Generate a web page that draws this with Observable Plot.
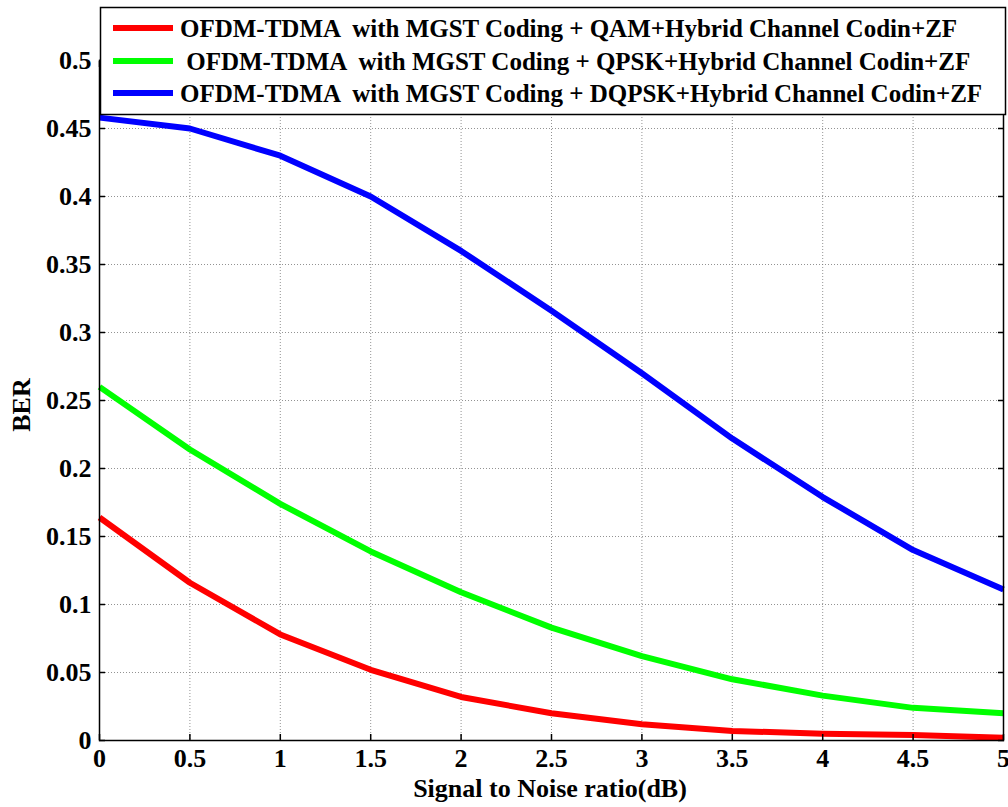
<!DOCTYPE html>
<html>
<head>
<meta charset="utf-8">
<script src="https://cdn.jsdelivr.net/npm/d3@7"></script>
<script src="https://cdn.jsdelivr.net/npm/@observablehq/plot@0.6"></script>
<style>
  html, body { margin: 0; padding: 0; background: #fff; }
  #chart svg { display: block; }
</style>
</head>
<body>
<div id="chart"></div>
<script>
const snr = [0, 0.5, 1, 1.5, 2, 2.5, 3, 3.5, 4, 4.5, 5];
const berQAM   = [0.164, 0.116, 0.078, 0.052, 0.032, 0.020, 0.012, 0.007, 0.005, 0.004, 0.002];
const berQPSK  = [0.260, 0.214, 0.174, 0.139, 0.109, 0.083, 0.062, 0.045, 0.033, 0.024, 0.020];
const berDQPSK = [0.458, 0.450, 0.430, 0.400, 0.360, 0.316, 0.270, 0.222, 0.179, 0.140, 0.111];
const seriesNames = [
  "OFDM-TDMA  with MGST Coding + QAM+Hybrid Channel Codin+ZF",
  " OFDM-TDMA  with MGST Coding + QPSK+Hybrid Channel Codin+ZF",
  "OFDM-TDMA  with MGST Coding + DQPSK+Hybrid Channel Codin+ZF"
];
const seriesColors = ["#ff0000", "#00ff00", "#0000ff"];
const xTicks = [0, 0.5, 1, 1.5, 2, 2.5, 3, 3.5, 4, 4.5, 5];
const yTicks = [0, 0.05, 0.1, 0.15, 0.2, 0.25, 0.3, 0.35, 0.4, 0.45, 0.5];
const xLabel = "Signal to Noise ratio(dB)";
const yLabel = "BER";

const allSeries = [berQAM, berQPSK, berDQPSK];
const data = [];
allSeries.forEach((vals, si) => {
  vals.forEach((v, i) => data.push({x: snr[i], y: v, s: seriesNames[si]}));
});

const W = 1008, H = 807;
const fontFam = "'Liberation Serif', 'Times New Roman', serif";
const fmt = d => String(+d.toFixed(2));

const chart = Plot.plot({
  width: W,
  height: H,
  marginLeft: 99,
  marginRight: 5,
  marginTop: 60,
  marginBottom: 67,
  style: {fontFamily: fontFam, fontWeight: "bold", fontSize: "26px", background: "#fff", color: "#000"},
  x: {domain: [0, 5]},
  y: {domain: [0, 0.5]},
  color: {domain: seriesNames, range: seriesColors},
  marks: [
    Plot.gridX(xTicks, {stroke: "#777", strokeOpacity: 1, strokeWidth: 0.8, strokeDasharray: "1,2"}),
    Plot.gridY(yTicks, {stroke: "#777", strokeOpacity: 1, strokeWidth: 0.8, strokeDasharray: "1,2"}),
    Plot.line(data, {x: "x", y: "y", z: "s", stroke: "s", strokeWidth: 6, strokeLinejoin: "round", strokeLinecap: "butt"}),
    Plot.frame({stroke: "#000", strokeWidth: 1.5}),
    Plot.axisX({ticks: xTicks, tickFormat: fmt, tickSize: 0, tickPadding: 8, label: null, fontSize: 26}),
    Plot.axisX({ticks: xTicks, tickFormat: () => "", tickSize: -6, label: null, stroke: "#000", strokeWidth: 1.5}),
    Plot.axisX({anchor: "top", ticks: xTicks, tickFormat: () => "", tickSize: -6, label: null, stroke: "#000", strokeWidth: 1.5}),
    Plot.axisY({ticks: yTicks, tickFormat: fmt, tickSize: 0, tickPadding: 8, label: null, fontSize: 26}),
    Plot.axisY({ticks: yTicks, tickFormat: () => "", tickSize: -6, label: null, stroke: "#000", strokeWidth: 1.5}),
    Plot.axisY({anchor: "right", ticks: yTicks, tickFormat: () => "", tickSize: -6, label: null, stroke: "#000", strokeWidth: 1.5})
  ]
});

document.getElementById("chart").appendChild(chart);

const svg = d3.select(chart);
svg.attr("overflow", "visible");

// axis labels
svg.append("text")
  .attr("x", 550).attr("y", 797)
  .attr("text-anchor", "middle")
  .style("font-family", fontFam).style("font-weight", "bold").style("font-size", "26px")
  .attr("fill", "#000")
  .text(xLabel);

svg.append("text")
  .attr("transform", "translate(30,405) rotate(-90)")
  .attr("text-anchor", "middle")
  .style("font-family", fontFam).style("font-weight", "bold").style("font-size", "26px")
  .attr("fill", "#000")
  .text(yLabel);

// legend box (overlapping the top of the plot, as in the reference)
const lg = svg.append("g");
lg.append("rect")
  .attr("x", 100.5).attr("y", 7.5).attr("width", 905).attr("height", 107)
  .attr("fill", "#fff").attr("stroke", "#000").attr("stroke-width", 1.5);
const rowY = [28, 61, 93];
seriesNames.forEach((name, i) => {
  lg.append("line")
    .attr("x1", 113).attr("x2", 173).attr("y1", rowY[i]).attr("y2", rowY[i])
    .attr("stroke", seriesColors[i]).attr("stroke-width", 6);
  lg.append("text")
    .attr("x", 180).attr("y", rowY[i]).attr("dy", "0.35em")
    .attr("text-anchor", "start")
    .attr("xml:space", "preserve")
    .style("white-space", "pre")
    .style("font-family", fontFam).style("font-weight", "bold").style("font-size", "25px")
    .attr("fill", "#000")
    .text(name);
});
</script>
</body>
</html>
